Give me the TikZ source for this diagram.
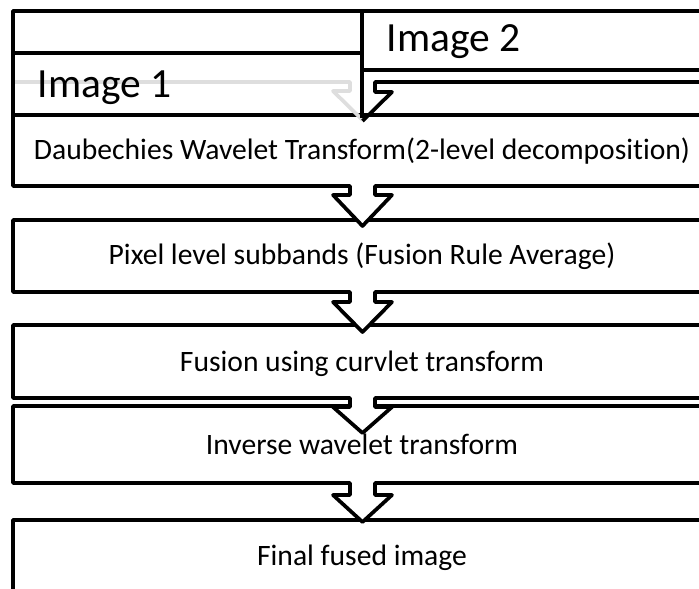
\documentclass[tikz,border=0pt]{standalone}
\usepackage{fontspec}
\setmainfont{Carlito}[Ligatures=NoCommon]
% box with a down-arrow callout below it: top, bottom, shaft end, tip
\newcommand\flowcallout[4]{%
  \draw[stagebox] (13,#1) -- (712,#1) -- (712,#2) -- (375,#2) -- (375,#3)
    -- (392,#3) -- (362.5,#4) -- (333,#3) -- (350,#3) -- (350,#2)
    -- (13,#2) -- cycle;}
\begin{document}
\begin{tikzpicture}[x=1pt, y=-1pt, line width=3.7pt, line join=round,
  stagebox/.style={draw=black, fill=white},
  ghostline/.style={draw=black!13},
  stagetext/.style={font=\fontsize{29.6}{34}\selectfont, inner sep=0pt, anchor=base},
  imagetext/.style={font=\fontsize{41.5}{46}\selectfont, inner sep=0pt, anchor=base west}]
\useasboundingbox (0,0) rectangle (699,589);
\clip (0,0) rectangle (699,589);

% processing stages, drawn bottom-up so each arrow lies over the next box
\draw[stagebox] (13,520) rectangle (712,620);
\flowcallout{406}{483}{495}{522}
\flowcallout{325}{398}{407}{433}
\flowcallout{220}{292}{302}{332}
\flowcallout{115}{186}{195}{226}

% input images and their merging arrow
\fill[white] (13,53) rectangle (362,113);
\draw[ghostline] (13,82) -- (350,82) -- (350,91) -- (333,91) -- (362.5,120);
\draw (712,82) -- (375,82) -- (375,92) -- (392,92) -- (362.5,121);
\draw (712,11) -- (13,11) -- (13,116);
\draw (13,53) -- (362,53);
\draw (362,11) -- (362,118);
\draw (362,70) -- (712,70);

\node[imagetext] (img1) at (36,97) {Image 1};
\node[imagetext] (img2) at (385,51) {Image 2};

\node[stagetext] (dwt)  at (362,159) {Daubechies Wavelet Transform(2-level decomposition)};
\node[stagetext] (pix)  at (362,264) {Pixel level subbands (Fusion Rule Average)};
\node[stagetext] (curv) at (362,371) {Fusion using curvlet transform};
\node[stagetext] (inv)  at (362,454) {Inverse wavelet transform};
\node[stagetext] (out)  at (362,565) {Final fused image};
\end{tikzpicture}
\end{document}
